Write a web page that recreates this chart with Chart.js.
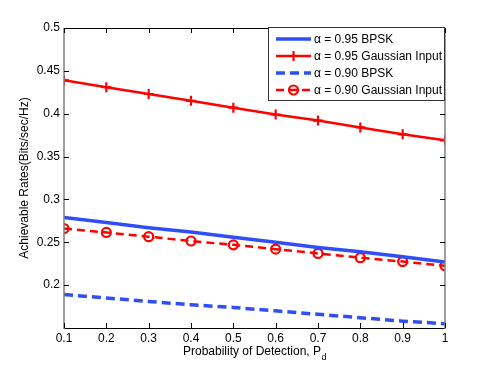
<!DOCTYPE html>
<html><head><meta charset="utf-8">
<script src="https://cdn.jsdelivr.net/npm/chart.js@4/dist/chart.umd.min.js"></script>
<style>html,body{margin:0;padding:0;background:#fff}#wrap{width:491px;height:370px}</style>
</head><body><div id="wrap"><canvas id="c" width="491" height="370"></canvas></div>
<script>
const pd = [0.1, 0.2, 0.3, 0.4, 0.5, 0.6, 0.7, 0.8, 0.9, 1.0];
const bpsk95 = [0.279, 0.273, 0.267, 0.262, 0.256, 0.250, 0.244, 0.239, 0.233, 0.227];
const gauss95 = [0.439, 0.431, 0.423, 0.415, 0.407, 0.399, 0.392, 0.384, 0.376, 0.369];
const bpsk90 = [0.189, 0.185, 0.181, 0.177, 0.174, 0.170, 0.166, 0.162, 0.158, 0.155];
const gauss90 = [0.266, 0.2615, 0.2565, 0.2515, 0.247, 0.242, 0.237, 0.232, 0.2275, 0.2225];
const xTicks = [0.1, 0.2, 0.3, 0.4, 0.5, 0.6, 0.7, 0.8, 0.9, 1];
const yTicks = [0.2, 0.25, 0.3, 0.35, 0.4, 0.45, 0.5];
const seriesNames = ['α = 0.95 BPSK', 'α = 0.95 Gaussian Input', 'α = 0.90 BPSK', 'α = 0.90 Gaussian Input'];
const xTitle = 'Probability of Detection, P';
const xTitleSub = 'd';
const yTitle = 'Achievable Rates(Bits/sec/Hz)';

const BLUE = '#2f4ef8';
const RED = '#ff0000';
const FONT = '"Liberation Sans", Arial, Helvetica, sans-serif';

const toPts = arr => arr.map((v, i) => ({x: pd[i], y: v}));

const styles = [
  {color: BLUE, width: 3.5, dash: [], point: false},
  {color: RED, width: 2.5, dash: [], point: 'cross'},
  {color: BLUE, width: 3.5, dash: [9, 5], point: false},
  {color: RED, width: 2.5, dash: [8, 5], point: 'circle'}
];
const seriesData = [bpsk95, gauss95, bpsk90, gauss90];

const datasets = seriesData.map((d, i) => {
  const s = styles[i];
  return {
    label: seriesNames[i],
    data: toPts(d),
    borderColor: s.color,
    backgroundColor: s.color,
    borderWidth: s.width,
    borderDash: s.dash,
    tension: 0,
    fill: false,
    pointStyle: s.point === 'cross' ? 'cross' : 'circle',
    pointRadius: s.point ? (s.point === 'cross' ? 5 : 4.5) : 0,
    pointBorderWidth: 2.2,
    pointBorderColor: s.color,
    pointBackgroundColor: s.point === 'circle' ? 'rgba(255,255,255,0)' : s.color,
    pointHoverRadius: 0
  };
});

function drawMarker(ctx, type, x, y, color) {
  ctx.save();
  ctx.setLineDash([]);
  ctx.strokeStyle = color;
  ctx.lineWidth = 2.2;
  ctx.beginPath();
  if (type === 'cross') {
    ctx.moveTo(x - 5, y); ctx.lineTo(x + 5, y);
    ctx.moveTo(x, y - 5); ctx.lineTo(x, y + 5);
  } else if (type === 'circle') {
    ctx.arc(x, y, 4.5, 0, Math.PI * 2);
  }
  ctx.stroke();
  ctx.restore();
}

const framePlugin = {
  id: 'frame',
  afterDraw(chart) {
    const ctx = chart.ctx;
    const a = chart.chartArea;
    const xs = chart.scales.x, ys = chart.scales.y;
    ctx.save();
    ctx.setLineDash([]);
    ctx.lineWidth = 1;
    ctx.strokeStyle = '#000';
    ctx.beginPath();
    ctx.moveTo(a.left, a.top + 0.5); ctx.lineTo(a.right, a.top + 0.5);
    ctx.moveTo(a.left, a.bottom + 0.5); ctx.lineTo(a.right, a.bottom + 0.5);
    ctx.stroke();
    ctx.strokeStyle = '#808080';
    ctx.lineWidth = 1.5;
    ctx.beginPath();
    ctx.moveTo(a.left, a.top); ctx.lineTo(a.left, a.bottom + 1);
    ctx.moveTo(a.right, a.top); ctx.lineTo(a.right, a.bottom + 1);
    ctx.stroke();
    ctx.lineWidth = 1;
    ctx.strokeStyle = '#000';
    ctx.beginPath();
    const TL = 5;
    xTicks.forEach(v => {
      const px = Math.round(xs.getPixelForValue(v)) + 0.5;
      ctx.moveTo(px, a.bottom); ctx.lineTo(px, a.bottom - TL);
      ctx.moveTo(px, a.top); ctx.lineTo(px, a.top + TL);
    });
    yTicks.forEach(v => {
      const py = Math.round(ys.getPixelForValue(v)) + 0.5;
      ctx.moveTo(a.left, py); ctx.lineTo(a.left + TL, py);
      ctx.moveTo(a.right, py); ctx.lineTo(a.right - TL, py);
    });
    ctx.stroke();

    ctx.fillStyle = '#000';
    ctx.font = '12px ' + FONT;
    ctx.textBaseline = 'middle';
    const w1 = ctx.measureText(xTitle).width;
    ctx.font = '9px ' + FONT;
    const w2 = ctx.measureText(xTitleSub).width;
    const cx = (a.left + a.right) / 2;
    const startX = cx - (w1 + w2) / 2;
    ctx.font = '12px ' + FONT;
    ctx.textAlign = 'left';
    ctx.fillText(xTitle, startX, 352);
    ctx.font = '9px ' + FONT;
    ctx.fillText(xTitleSub, startX + w1 + 0.5, 358);

    ctx.save();
    ctx.translate(25, (a.top + a.bottom) / 2);
    ctx.rotate(-Math.PI / 2);
    ctx.font = '12px ' + FONT;
    ctx.textAlign = 'center';
    ctx.fillText(yTitle, 0, 0);
    ctx.restore();

    const L = {x: 268, y: 27, w: 176, h: 73};
    ctx.fillStyle = '#fff';
    ctx.fillRect(L.x, L.y, L.w, L.h);
    ctx.strokeStyle = '#333';
    ctx.lineWidth = 1;
    ctx.strokeRect(L.x + 0.5, L.y + 0.5, L.w, L.h);
    const rows = [39, 56, 73, 90];
    seriesNames.forEach((name, i) => {
      const s = styles[i];
      const y = rows[i];
      ctx.save();
      ctx.strokeStyle = s.color;
      ctx.lineWidth = s.width;
      ctx.setLineDash(s.dash);
      ctx.beginPath();
      ctx.moveTo(276, y); ctx.lineTo(311, y);
      ctx.stroke();
      ctx.restore();
      if (s.point) drawMarker(ctx, s.point, 293.5, y, s.color);
      ctx.fillStyle = '#000';
      ctx.font = '12px ' + FONT;
      ctx.textAlign = 'left';
      ctx.textBaseline = 'middle';
      ctx.fillText(name, 314, y + 0.5);
    });
    ctx.restore();
  }
};

new Chart(document.getElementById('c'), {
  type: 'line',
  data: {datasets},
  options: {
    responsive: false,
    animation: false,
    devicePixelRatio: 1,
    layout: {padding: {left: 0, right: 46, top: 28, bottom: 0}},
    plugins: {legend: {display: false}, tooltip: {enabled: false}, title: {display: false}},
    elements: {line: {borderCapStyle: 'butt'}},
    scales: {
      x: {
        type: 'linear', min: 0.1, max: 1,
        afterBuildTicks: s => { s.ticks = xTicks.map(v => ({value: v})); },
        afterFit: s => { s.height = 42; },
        grid: {display: false, drawTicks: false},
        border: {display: false},
        ticks: {
          color: '#000', padding: 3, maxRotation: 0, autoSkip: false,
          font: {family: FONT, size: 12},
          callback: v => (v === 1 ? '1' : Number(v).toFixed(1))
        }
      },
      y: {
        type: 'linear', min: 0.15, max: 0.5,
        afterBuildTicks: s => { s.ticks = yTicks.map(v => ({value: v})); },
        afterFit: s => { s.width = 64; },
        grid: {display: false, drawTicks: false},
        border: {display: false},
        ticks: {
          color: '#000', padding: 4, autoSkip: false,
          font: {family: FONT, size: 12},
          callback: v => String(Number(Number(v).toFixed(2)))
        }
      }
    }
  },
  plugins: [framePlugin]
});
</script>
</body></html>
